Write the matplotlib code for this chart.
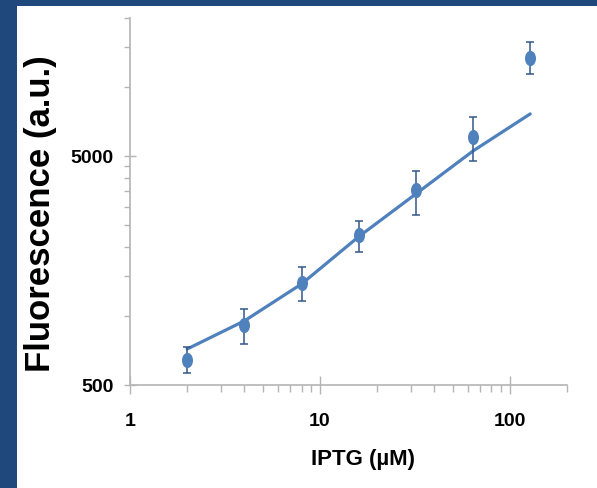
import numpy as np
import matplotlib
matplotlib.use('Agg')
import matplotlib.pyplot as plt
from matplotlib import font_manager
from matplotlib.path import Path
from matplotlib.patches import Rectangle
from matplotlib.transforms import Affine2D
from matplotlib.ticker import NullFormatter

# Data
iptg = [2, 4, 8, 16, 32, 64, 128]
fluor = [643, 914, 1390, 2259, 3551, 6072, 13430]
fluor_hi = [733, 1077, 1638, 2609, 4313, 7377, 15680]
fluor_lo = [564, 757, 1167, 1910, 2762, 4770, 11375]
fit = [718, 952, 1380, 2220, 3413, 5255, 7628]

x_major = [1, 10, 100]
x_major_labels = ['1', '10', '100']
y_major = [500, 5000]
y_major_labels = ['500', '5000']
y_minor = [1000, 1500, 2000, 2500, 3000, 3500, 4000, 4500, 10000, 15000, 20000]

# Colours
border = '#1F497D'
blue = '#4F81BD'
err_col = '#34578A'
axis_gray = '#B4B4B4'

# the picture is squeezed sideways, a narrow face is closer when present
names = {f.name for f in font_manager.fontManager.ttflist}
if 'Liberation Sans Narrow' in names:
    narrow = ['Liberation Sans Narrow', 'DejaVu Sans']
    tick_size, xlab_size = 17, 19
else:
    narrow = ['Liberation Sans', 'DejaVu Sans']
    tick_size, xlab_size = 14, 16
wide = ['Liberation Sans', 'DejaVu Sans']

fig = plt.figure(figsize=(5.97, 4.89), dpi=100)
fig.patch.set_facecolor(border)
fig.add_artist(Rectangle((17 / 597, 0), 1 - 17 / 597, 1 - 7 / 489,
                         transform=fig.transFigure, facecolor='white',
                         edgecolor='none', zorder=-1))

ax = fig.add_axes([130 / 597, 1 - 386 / 489, 437 / 597, 367 / 489])
ax.patch.set_visible(False)
ax.set_xscale('log')
ax.set_yscale('log')
ax.set_xlim(1, 200)
ax.set_ylim(500, 20000)

# elliptical marker, like the stretched Excel dots
ellipse = Path.unit_circle().transformed(Affine2D().scale(0.72, 1.0))

ax.plot(iptg, fit, color=blue, lw=2.3, solid_capstyle='round',
        solid_joinstyle='round', zorder=2)
yerr = [np.array(fluor) - np.array(fluor_lo), np.array(fluor_hi) - np.array(fluor)]
ax.errorbar(iptg, fluor, yerr=yerr, fmt='none', ecolor=err_col,
            elinewidth=1.1, capsize=2.8, capthick=1.1, zorder=3)
ax.plot(iptg, fluor, linestyle='none', marker=ellipse, markersize=11,
        color=blue, markeredgewidth=0, zorder=4)

# axes styling
for side in ['top', 'right']:
    ax.spines[side].set_visible(False)
for side in ['left', 'bottom']:
    ax.spines[side].set_color(axis_gray)
    ax.spines[side].set_linewidth(1.2)

ax.set_xticks(x_major, labels=x_major_labels)
ax.set_yticks(y_major, labels=y_major_labels)
ax.set_yticks(y_minor, minor=True)
ax.xaxis.set_minor_formatter(NullFormatter())
ax.yaxis.set_minor_formatter(NullFormatter())

ax.tick_params(axis='x', which='major', direction='inout', length=13,
               width=1, color=axis_gray, pad=13)
ax.tick_params(axis='x', which='minor', direction='out', length=5,
               width=1, color=axis_gray)
ax.tick_params(axis='y', which='major', direction='inout', length=8,
               width=1, color=axis_gray, pad=8)
ax.tick_params(axis='y', which='minor', direction='out', length=4.3,
               width=1, color=axis_gray)

for lab in ax.get_xticklabels() + ax.get_yticklabels():
    lab.set_fontfamily(narrow)
    lab.set_fontsize(tick_size)
    lab.set_fontweight('bold')

ax.set_xlabel('IPTG (µM)', family=narrow, fontsize=xlab_size, fontweight='bold')
ax.xaxis.set_label_coords(0.533, -0.172)
ax.set_ylabel('Fluorescence (a.u.)', family=wide, fontsize=25, fontweight='bold')
ax.yaxis.set_label_coords(-0.168, 0.47)

fig.savefig('out.png', dpi=100, facecolor=fig.get_facecolor())
